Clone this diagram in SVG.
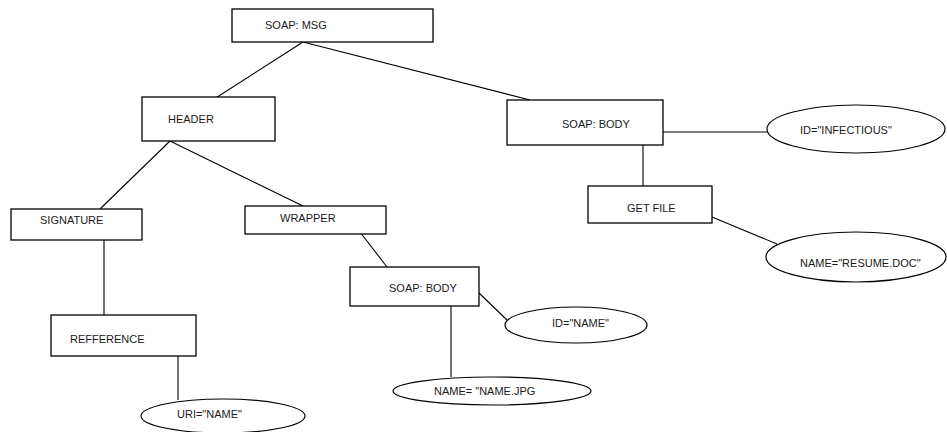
<svg xmlns="http://www.w3.org/2000/svg" width="947" height="432" viewBox="0 0 947 432">
  <style>
    .box { fill: #ffffff; stroke: #000000; stroke-width: 1.3; }
    .oval { fill: #ffffff; stroke: #000000; stroke-width: 1.2; }
    .wire { stroke: #000000; stroke-width: 1.1; fill: none; }
    .lbl { font-family: "Liberation Sans", Arial, sans-serif; font-size: 11px; fill: #1a1a1a; }
  </style>
  <rect x="0" y="0" width="947" height="432" fill="#ffffff"/>

  <!-- connectors -->
  <g id="connectors">
    <line class="wire" x1="303" y1="42" x2="211" y2="101"/>
    <line class="wire" x1="303" y1="42" x2="530" y2="100"/>
    <line class="wire" x1="170" y1="141" x2="100" y2="209"/>
    <line class="wire" x1="170" y1="141" x2="303" y2="206"/>
    <line class="wire" x1="104" y1="240" x2="104" y2="315"/>
    <line class="wire" x1="178" y1="356" x2="178" y2="400"/>
    <line class="wire" x1="360" y1="232" x2="387" y2="267"/>
    <line class="wire" x1="479" y1="293" x2="507" y2="320"/>
    <line class="wire" x1="451" y1="306" x2="451" y2="377"/>
    <line class="wire" x1="663" y1="132" x2="767" y2="132"/>
    <line class="wire" x1="643" y1="145" x2="643" y2="186"/>
    <line class="wire" x1="712" y1="217" x2="777" y2="244"/>
  </g>

  <g id="soap-msg">
    <rect class="box" x="232" y="9" width="201" height="33"/>
    <text class="lbl" x="265" y="29">SOAP: MSG</text>
  </g>

  <g id="header">
    <rect class="box" x="142" y="97" width="133" height="44"/>
    <text class="lbl" x="168" y="123">HEADER</text>
  </g>

  <g id="soap-body-main">
    <rect class="box" x="507" y="100" width="156" height="45"/>
    <text class="lbl" x="562" y="128">SOAP: BODY</text>
  </g>

  <g id="id-infectious">
    <ellipse class="oval" cx="856" cy="129" rx="89" ry="24"/>
    <text class="lbl" x="800" y="134">ID="INFECTIOUS"</text>
  </g>

  <g id="get-file">
    <rect class="box" x="588" y="186" width="124" height="37"/>
    <text class="lbl" x="627" y="212">GET FILE</text>
  </g>

  <g id="name-resume">
    <ellipse class="oval" cx="856" cy="257" rx="90" ry="25"/>
    <text class="lbl" x="800" y="267">NAME="RESUME.DOC"</text>
  </g>

  <g id="signature">
    <rect class="box" x="11" y="209" width="131" height="31"/>
    <text class="lbl" x="40" y="224">SIGNATURE</text>
  </g>

  <g id="wrapper">
    <rect class="box" x="245" y="206" width="141" height="28"/>
    <text class="lbl" x="280" y="222">WRAPPER</text>
  </g>

  <g id="refference">
    <rect class="box" x="51" y="315" width="145" height="41"/>
    <text class="lbl" x="70" y="343">REFFERENCE</text>
  </g>

  <g id="uri-name">
    <ellipse class="oval" cx="223" cy="416" rx="82" ry="17"/>
    <text class="lbl" x="177" y="418">URI="NAME"</text>
  </g>

  <g id="soap-body-inner">
    <rect class="box" x="350" y="267" width="129" height="39"/>
    <text class="lbl" x="389" y="292">SOAP: BODY</text>
  </g>

  <g id="id-name">
    <ellipse class="oval" cx="576" cy="325" rx="71" ry="18"/>
    <text class="lbl" x="552" y="327">ID="NAME"</text>
  </g>

  <g id="name-jpg">
    <ellipse class="oval" cx="492" cy="391" rx="99" ry="14"/>
    <text class="lbl" x="434" y="395">NAME= "NAME.JPG</text>
  </g>
</svg>
